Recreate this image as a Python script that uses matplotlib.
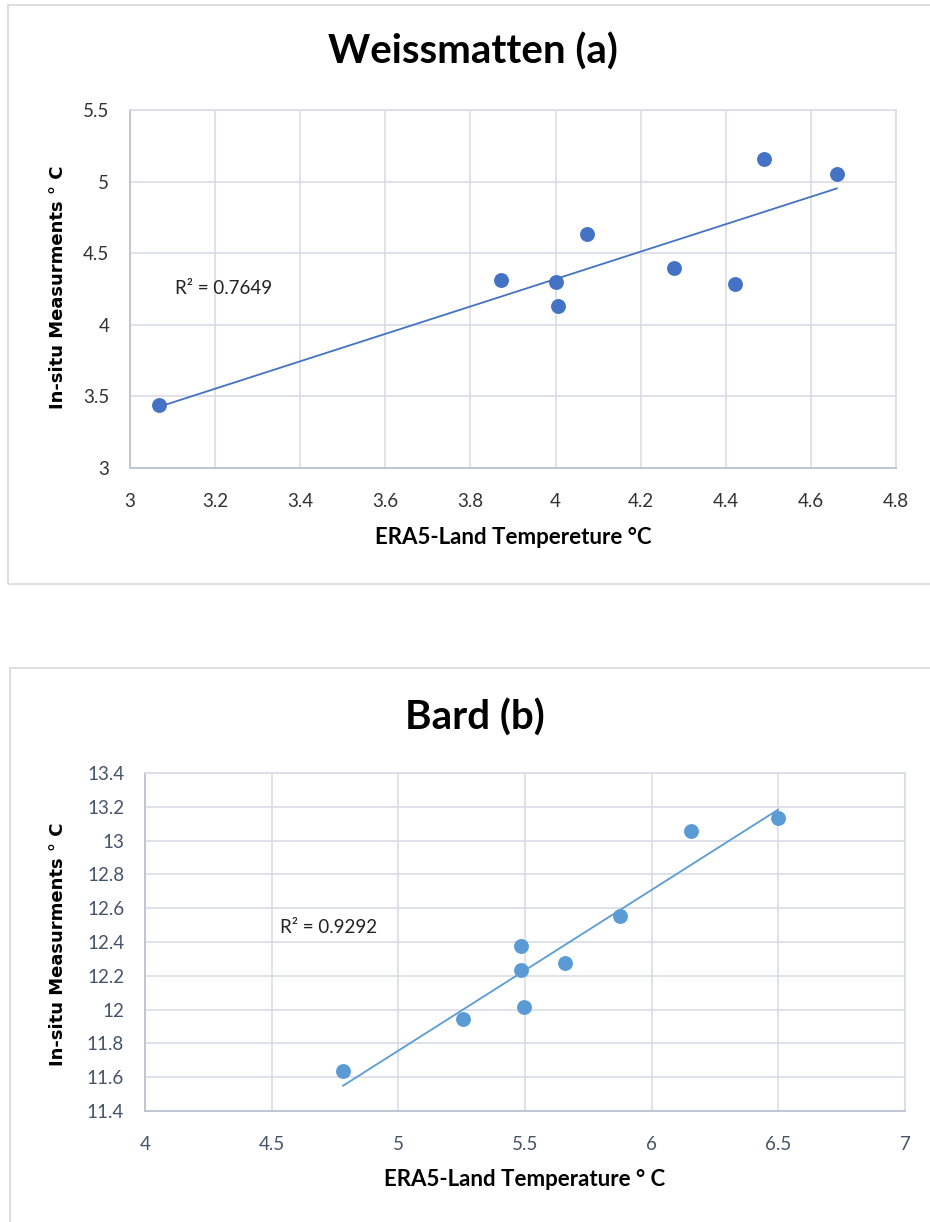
import numpy as np
import matplotlib.pyplot as plt
from matplotlib.patches import Rectangle

# Weissmatten (a)
era_a = [3.068, 3.872, 4.000, 4.006, 4.074, 4.278, 4.422, 4.490, 4.661]
insitu_a = [3.44, 4.313, 4.30, 4.13, 4.634, 4.397, 4.285, 5.158, 5.053]
r2_a = "R² = 0.7649"

# Bard (b)
era_b = [4.782, 5.255, 5.484, 5.484, 5.496, 5.658, 5.875, 6.155, 6.499]
insitu_b = [11.637, 11.944, 12.376, 12.234, 12.015, 12.276, 12.554, 13.055, 13.134]
r2_b = "R² = 0.9292"

W, H = 930, 1222
fig = plt.figure(figsize=(W / 100, H / 100), dpi=100)

def fx(px):
    return px / W

def fy(py):
    return 1 - py / H

# chart borders
fig.patches.append(Rectangle((fx(8), fy(584)), fx(940) - fx(8), fy(5) - fy(584),
                             transform=fig.transFigure, fill=False, ec="#D9D9D9", lw=1.2))
fig.patches.append(Rectangle((fx(10), fy(1240)), fx(940) - fx(10), fy(668) - fy(1240),
                             transform=fig.transFigure, fill=False, ec="#D9D9D9", lw=1.2))


def panel(box, x, y, color, tick_color, xlim, ylim, xticks, yticks, r2, r2_pos,
          title, title_xy, xlabel, xlabel_y, ylabel_y):
    left, top, right, bottom = box
    ax = fig.add_axes([fx(left), fy(bottom), fx(right) - fx(left), fy(top) - fy(bottom)])
    ax.scatter(x, y, s=115, color=color, zorder=3, linewidths=0)
    k, b = np.polyfit(x, y, 1)
    xs = np.array([min(x), max(x)])
    ax.plot(xs, k * xs + b, color=color, lw=1.3, zorder=2)
    ax.set_xlim(*xlim)
    ax.set_ylim(*ylim)
    ax.set_xticks(xticks)
    ax.set_yticks(yticks)
    ax.set_xticklabels([f"{t:g}" for t in xticks])
    ax.set_yticklabels([f"{t:g}" for t in yticks])
    ax.grid(True, color="#D9DDE4", lw=1.2, zorder=0)
    ax.set_axisbelow(True)
    for s in ["top", "right"]:
        ax.spines[s].set_color("#D9DDE4")
        ax.spines[s].set_linewidth(1.2)
    for s in ["left", "bottom"]:
        ax.spines[s].set_color("#BFC6D2")
        ax.spines[s].set_linewidth(1.4)
    ax.tick_params(length=0, labelsize=13.5, labelcolor=tick_color)
    ax.tick_params(axis="y", pad=15)
    ax.tick_params(axis="x", pad=18)
    for lab in ax.get_xticklabels() + ax.get_yticklabels():
        lab.set_family("Lato")
    ax.text(r2_pos[0], r2_pos[1], r2, fontsize=13.5, family="Lato",
            ha="left", va="center", color="#222222")
    cx = (left + right) / 2
    fig.text(fx(title_xy[0]), fy(title_xy[1]), title, fontsize=29, fontweight="bold",
             family="Lato", ha="center", va="center")
    fig.text(fx(cx), fy(xlabel_y), xlabel, fontsize=16, fontweight="bold",
             family="Lato", ha="center", va="center")
    fig.text(fx(58), fy(ylabel_y), "In-situ Measurments ° C", fontsize=13,
             fontweight="bold", family="DejaVu Sans", rotation=90,
             ha="center", va="center")
    return ax


panel((130, 110, 896, 468), era_a, insitu_a, "#4472C4", "#333333",
      (3, 4.8), (3, 5.5), [3, 3.2, 3.4, 3.6, 3.8, 4, 4.2, 4.4, 4.6, 4.8],
      [3, 3.5, 4, 4.5, 5, 5.5], r2_a, (3.105, 4.25),
      "Weissmatten (a)", (473, 52), "ERA5-Land Tempereture °C", 537, 287)

panel((145, 773, 905, 1111), era_b, insitu_b, "#5B9BD5", "#44546A",
      (4, 7), (11.4, 13.4), [4, 4.5, 5, 5.5, 6, 6.5, 7],
      [11.4, 11.6, 11.8, 12, 12.2, 12.4, 12.6, 12.8, 13, 13.2, 13.4], r2_b, (4.533, 12.483),
      "Bard (b)", (475, 718), "ERA5-Land Temperature ° C", 1180, 944)

fig.savefig("out.png", dpi=100)
